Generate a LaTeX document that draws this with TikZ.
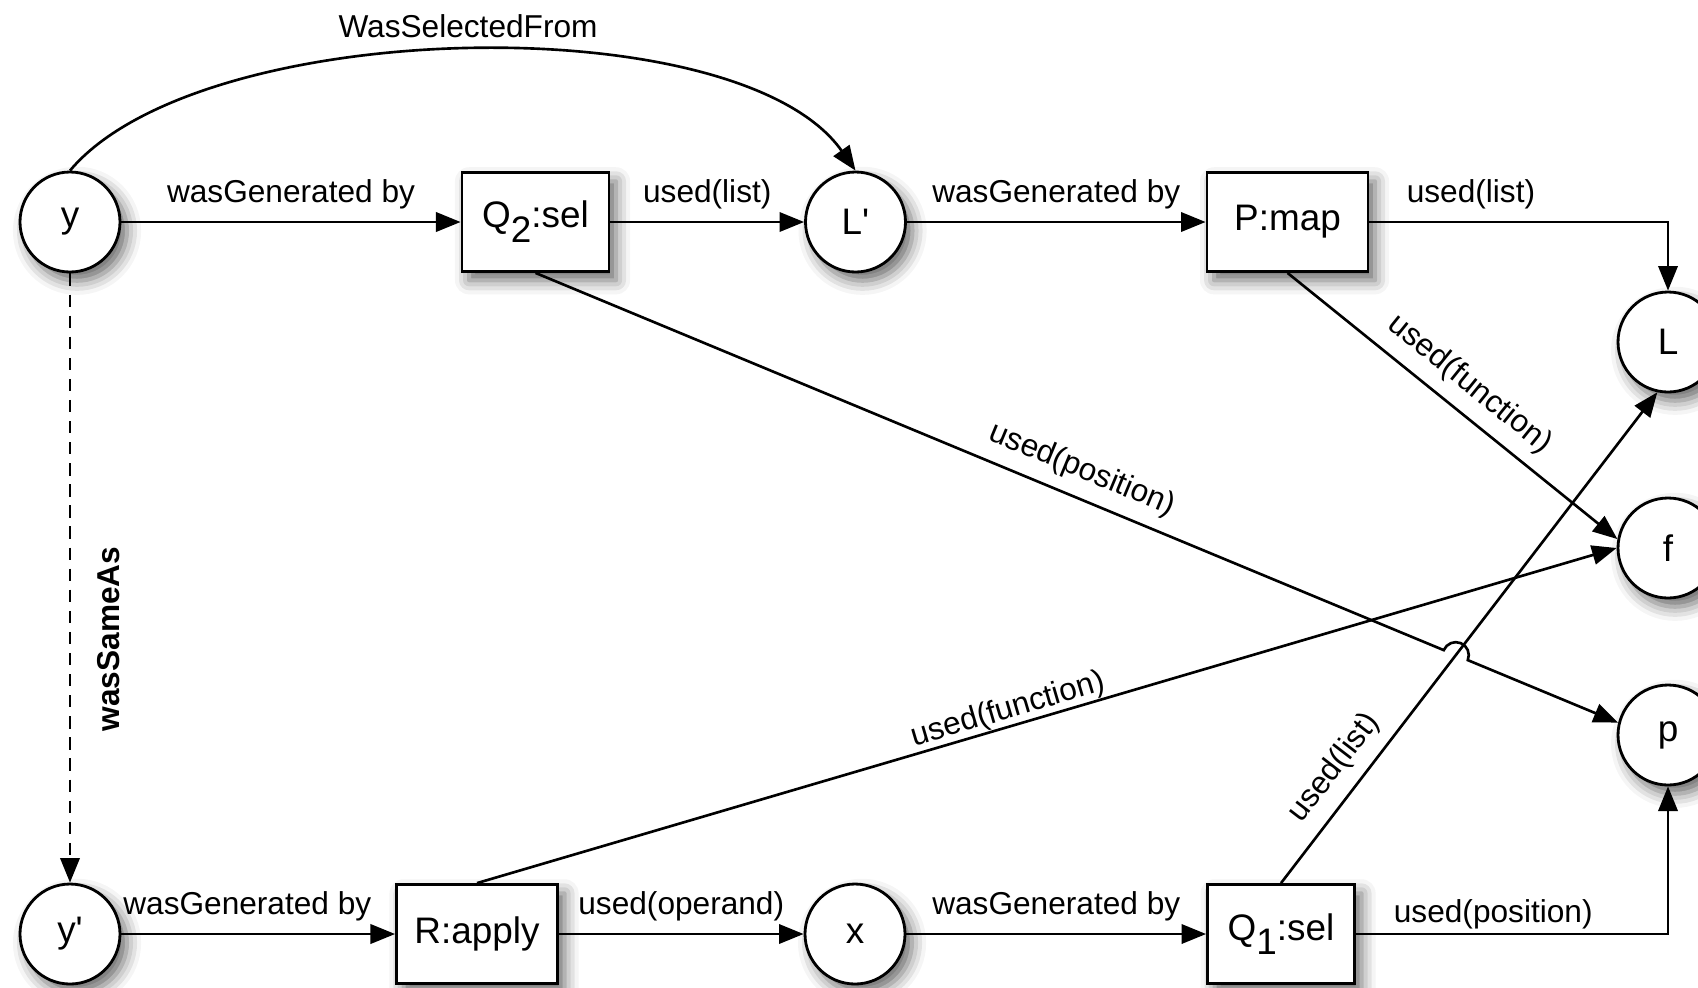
\documentclass[tikz,border=0pt]{standalone}
\usepackage{fontspec}
\setmainfont{Liberation Sans}
\usetikzlibrary{positioning,arrows.meta,shadows.blur,calc,intersections}

\begin{document}
\begin{tikzpicture}[node distance=4cm,
    ent/.style={circle, draw, fill=white, line width=0.8pt, minimum size=1cm, inner sep=0pt, font=\fontsize{10.5}{12}\selectfont, blur shadow={shadow xshift=2pt, shadow yshift=-2.5pt, shadow blur radius=4pt, shadow opacity=60}},
    proc/.style={rectangle, draw, fill=white, line width=0.8pt, minimum width=1.47cm, minimum height=0.99cm, inner sep=2pt, font=\fontsize{10.5}{12}\selectfont, blur shadow={shadow xshift=2pt, shadow yshift=-2.5pt, shadow blur radius=4pt, shadow opacity=60}},
    edge/.style={-{Triangle[length=7pt,width=5.5pt]}, line width=0.75pt},
    lbl/.style={font=\fontsize{9}{11}\selectfont}]
    \useasboundingbox (0,0) rectangle (16.98,-9.87);
    \clip (0,0) rectangle (16.98,-9.87);

    % top row
    \node [ent] (y) at (0.70,-2.22) {y};
    \node [proc, right of=y, node distance=4.655cm] (q2) {Q\raisebox{-0.4em}{2}:sel};
    \node [ent, right of=q2, node distance=3.2cm] (lp) {L\textquotesingle};
    \node [proc, right of=lp, node distance=4.32cm, minimum width=1.61cm] (pmap) {P:map};

    % right column
    \node [ent, right of=pmap, node distance=3.805cm, yshift=-1.2cm] (L) {L};
    \node [ent, below of=L, node distance=2.06cm] (f) {f};
    \node [ent, below of=f, node distance=1.87cm] (p) {p};

    % bottom row
    \node [ent, below of=y, node distance=7.12cm] (yp) {y\textquotesingle};
    \node [proc, right of=yp, node distance=4.07cm, minimum width=1.61cm] (rapply) {R:apply};
    \node [ent, right of=rapply, node distance=3.78cm] (x) {x};
    \node [proc, right of=x, node distance=4.26cm] (q1) {Q\raisebox{-0.4em}{1}:sel};

    \draw [edge] (y) -- node[lbl, above] {wasGenerated by} (q2);
    \draw [edge] (q2) -- node[lbl, above] {used(list)} (lp);
    \draw [edge] (lp) -- node[lbl, above] {wasGenerated by} (pmap);
    \draw [edge] (pmap.east) -| node[lbl, above, pos=0.17] {used(list)} (L.north);
    \draw [edge] (y.north) to[out=50, in=125, looseness=0.66] node[lbl, above] {WasSelectedFrom} (lp.north);
    \draw [edge, dash pattern=on 3.5pt off 2.5pt] (y.south) -- node[pos=0.6, anchor=north, rotate=90, inner ysep=7.5pt, font=\bfseries\fontsize{9}{11}\selectfont] {wasSameAs} (yp.north);

    \draw [edge] (yp) -- node[lbl, above, pos=0.46] {wasGenerated by} (rapply);
    \draw [edge] (rapply) -- node[lbl, above] {used(operand)} (x);
    \draw [edge] (x) -- node[lbl, above] {wasGenerated by} (q1);
    \draw [edge] (q1.east) -| node[lbl, above, pos=0.22, inner sep=1pt] {used(position)} (p.south);

    % diagonals
    \draw [edge] (pmap.south) -- node[lbl, above, sloped, pos=0.5] {used(function)} (f.170);
    \draw [edge] (rapply.north) -- node[lbl, above, sloped, pos=0.47, inner sep=0pt] {used(function)} (f.west);
    \draw [edge] (q1.north) -- node[lbl, above, sloped, pos=0.2] {used(list)} (L.258);

    % hop over the used(list) line
    \path [name path=qp] (q2.south) -- (p.166);
    \path [name path=ql] (q1.north) -- (L.258);
    \path [name intersections={of=qp and ql, by=hop}];
    \draw [edge] let \p1=($(p.166)-(q2.south)$), \n1={atan2(\y1,\x1)} in
        (q2.south) -- node[lbl, above, sloped, pos=0.59] {used(position)} ($(hop)!0.13cm!(q2.south)$)
        arc[start angle=\n1+180, end angle=\n1, radius=0.13cm] -- (p.166);
\end{tikzpicture}
\end{document}
